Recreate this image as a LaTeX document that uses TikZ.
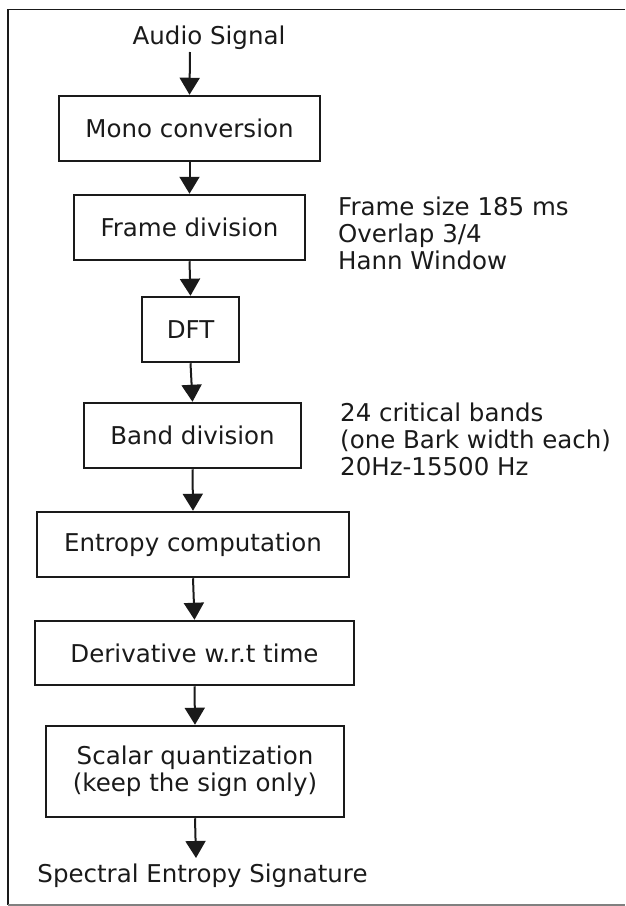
\documentclass[tikz,border=0pt]{standalone}
\usepackage{fontspec}
\setmainfont{DejaVu Sans}
\usetikzlibrary{arrows.meta}
\definecolor{ink}{HTML}{1A1A1A}
\begin{document}
\begin{tikzpicture}[x=1pt,y=-1pt,
  txt/.style={font=\fontsize{24.5}{27}\selectfont, text=ink},
  blk/.style={txt, draw=ink, line width=2.5pt, inner sep=0pt, align=center},
  side/.style={txt, inner sep=0pt, align=left, anchor=west},
  flow/.style={draw=ink, line width=2pt, -{Triangle[width=20pt,length=17pt]}}]
\useasboundingbox (0,0) rectangle (625,906);
\draw[ink, line width=1.3pt] (625,9.5) -- (8,9.5) -- (8,905);
\draw[gray, line width=1.3pt] (8,905) -- (625,905);

\node[txt, anchor=base, inner sep=0pt] (in) at (209,44) {Audio Signal};
\coordinate (inA) at (190,52);

\node[blk, minimum width=261pt, minimum height=65pt] (mono) at (189.5,128.5) {Mono conversion};
\node[blk, minimum width=231pt, minimum height=65pt] (frame) at (189.5,227.5) {Frame division};
\node[blk, minimum width=97pt, minimum height=65pt] (dft) at (190.5,329.5) {DFT};
\node[blk, minimum width=217pt, minimum height=65pt] (band) at (192.5,435.5) {Band division};
\node[blk, minimum width=312pt, minimum height=65pt] (ent) at (193,544.5) {Entropy computation};
\node[blk, minimum width=319pt, minimum height=64pt] (der) at (194.5,653) {Derivative w.r.t time};
\node[blk, minimum width=298pt, minimum height=91pt] (sq) at (195,771.5) {Scalar quantization\\(keep the sign only)};

\node[side] (fnote) at (338,233) {Frame size 185 ms\\Overlap 3/4\\Hann Window};
\node[side] (bnote) at (340,439) {24 critical bands\\(one Bark width each)\\20Hz-15500 Hz};

\coordinate (outA) at (196,858);
\node[txt, anchor=base, inner sep=0pt] (out) at (202.5,882) {Spectral Entropy Signature};

\draw[flow] (inA) -- (mono.north);
\draw[flow] (mono.south) -- (frame.north);
\draw[flow] (frame.south) -- (dft.north);
\draw[flow] (dft.south) -- (band.north);
\draw[flow] (band.south) -- (ent.north);
\draw[flow] (ent.south) -- (der.north);
\draw[flow] (der.south) -- (sq.north);
\draw[flow] (sq.south) -- (outA);
\end{tikzpicture}
\end{document}
